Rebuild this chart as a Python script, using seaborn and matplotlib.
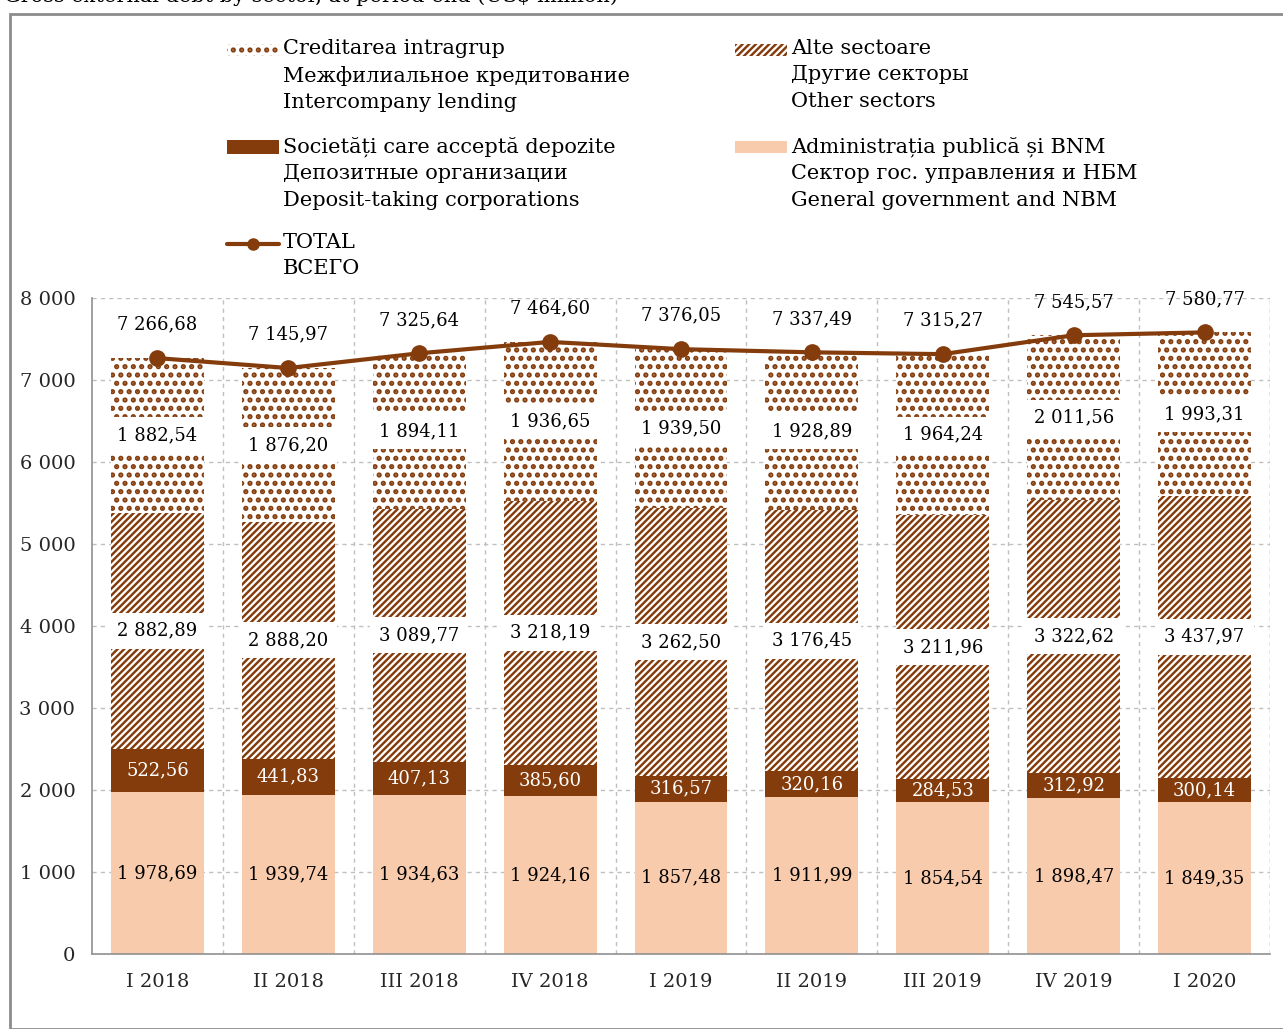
import matplotlib
matplotlib.use('Agg')
import matplotlib.pyplot as plt
from matplotlib.patches import Rectangle
from matplotlib.lines import Line2D
from matplotlib.ticker import FuncFormatter
import numpy as np
import pandas as pd
import seaborn as sns

# date (mil. USD)
periods = ['I 2018', 'II 2018', 'III 2018', 'IV 2018', 'I 2019',
           'II 2019', 'III 2019', 'IV 2019', 'I 2020']
admin = [1978.69, 1939.74, 1934.63, 1924.16, 1857.48, 1911.99, 1854.54, 1898.47, 1849.35]
deposit = [522.56, 441.83, 407.13, 385.60, 316.57, 320.16, 284.53, 312.92, 300.14]
other = [2882.89, 2888.20, 3089.77, 3218.19, 3262.50, 3176.45, 3211.96, 3322.62, 3437.97]
intercompany = [1882.54, 1876.20, 1894.11, 1936.65, 1939.50, 1928.89, 1964.24, 2011.56, 1993.31]
total = [7266.68, 7145.97, 7325.64, 7464.60, 7376.05, 7337.49, 7315.27, 7545.57, 7580.77]

BROWN = '#843C0C'
PEACH = '#F8CBAD'
FONT = 'DejaVu Serif'
FS = 13
HATCH_DOTS = '..'
HATCH_STRIPES = '/////'
LW_DOTS = 2.5
LW_STRIPES = 1.75

sns.set_style('white')
plt.rcParams['font.family'] = [FONT, 'DejaVu Sans']
plt.rcParams['hatch.linewidth'] = LW_STRIPES
plt.rcParams['hatch.color'] = BROWN

def fmt(v):
    return f'{v:,.2f}'.replace(',', ' ').replace('.', ',')

def hatch_lw(patch, lw):
    # nu toate versiunile matplotlib au grosime de hasura per obiect
    if hasattr(patch, 'set_hatch_linewidth'):
        patch.set_hatch_linewidth(lw)

df = pd.DataFrame({'period': periods, 'admin': admin, 'deposit': deposit,
                   'other': other, 'intercompany': intercompany, 'total': total})
df['c1'] = df['admin']
df['c2'] = df['c1'] + df['deposit']
df['c3'] = df['c2'] + df['other']
df['c4'] = df['c3'] + df['intercompany']

fig = plt.figure(figsize=(12.83, 10.29), dpi=100)
ax = fig.add_axes([92 / 1283, 75 / 1029, (1270 - 92) / 1283, (954 - 298) / 1029])

# straturile cumulative, de sus in jos
W = 0.71
sns.barplot(data=df, x='period', y='c4', ax=ax, width=W, color='white',
            edgecolor=BROWN, linewidth=0, hatch=HATCH_DOTS, saturation=1)
sns.barplot(data=df, x='period', y='c3', ax=ax, width=W, color='white',
            edgecolor=BROWN, linewidth=0, hatch=HATCH_STRIPES, saturation=1)
sns.barplot(data=df, x='period', y='c2', ax=ax, width=W, color=BROWN,
            edgecolor=BROWN, linewidth=0, saturation=1)
sns.barplot(data=df, x='period', y='c1', ax=ax, width=W, color=PEACH,
            edgecolor=PEACH, linewidth=0, saturation=1)
for bar in ax.containers[0]:
    hatch_lw(bar, LW_DOTS)

# linia TOTAL
x = np.arange(len(periods))
ax.plot(x, df['total'], color=BROWN, lw=3, marker='o', markersize=11, zorder=5)

box = dict(boxstyle='square,pad=0.5', fc='white', ec='none')
for i in range(len(periods)):
    ax.text(i, df['admin'][i] / 2, fmt(admin[i]), ha='center', va='center',
            fontsize=FS, color='black', zorder=6)
    ax.text(i, df['c1'][i] + deposit[i] / 2, fmt(deposit[i]), ha='center', va='center',
            fontsize=FS, color='white', zorder=6)
    ax.text(i, df['c2'][i] + other[i] / 2, fmt(other[i]), ha='center', va='center',
            fontsize=FS, color='black', bbox=box, zorder=6)
    ax.text(i, df['c3'][i] + intercompany[i] / 2, fmt(intercompany[i]), ha='center',
            va='center', fontsize=FS, color='black', bbox=box, zorder=6)
    ax.annotate(fmt(total[i]), (i, total[i]), xytext=(0, 24), textcoords='offset points',
                ha='center', va='center', fontsize=FS, color='black', zorder=6)

ax.set_xlim(-0.5, len(periods) - 0.5)
ax.set_ylim(0, 8000)
ax.set_yticks(np.arange(0, 8001, 1000))
ax.yaxis.set_major_formatter(FuncFormatter(lambda v, p: f'{v:,.0f}'.replace(',', ' ')))
ax.set_xlabel('')
ax.set_ylabel('')
ax.set_xticks(x)
ax.set_xticklabels(periods)
ax.set_xticks(np.arange(-0.5, len(periods), 1), minor=True)
ax.tick_params(axis='x', which='major', length=0, labelsize=FS + 1, pad=14)
ax.tick_params(axis='x', which='minor', length=6, color='#A0A0A0', width=1)
ax.tick_params(axis='y', length=0, labelsize=FS + 1, pad=12)
ax.grid(False)
for v in range(1000, 8001, 1000):
    ax.axhline(v, color='#BFBFBF', lw=1, ls=(0, (3, 3)), zorder=0)
for b in np.arange(0.5, len(periods), 1):
    ax.axvline(b, color='#BFBFBF', lw=1, ls=(0, (3, 3)), zorder=0)
ax.axvline(len(periods) - 0.5, color='#BFBFBF', lw=1, ls=(0, (3, 3)), zorder=0)
for s in ['top', 'right']:
    ax.spines[s].set_visible(False)
for s in ['left', 'bottom']:
    ax.spines[s].set_color('#909090')
    ax.spines[s].set_linewidth(1.2)

# legenda manuala
def fx(px):
    return px / 1283

def fy(py):
    return 1 - py / 1029

legend_items = [
    (227, 50, 'dots', 'Creditarea intragrup\nМежфилиальное кредитование\nIntercompany lending'),
    (735, 50, 'stripes', 'Alte sectoare\nДругие секторы\nOther sectors'),
    (227, 147, 'deposit', 'Societăți care acceptă depozite\nДепозитные организации\nDeposit-taking corporations'),
    (735, 147, 'admin', 'Administrația publică și BNM\nСектор гос. управления и НБМ\nGeneral government and NBM'),
    (227, 244, 'line', 'TOTAL\nВСЕГО'),
]
for px, py, kind, label in legend_items:
    if kind == 'line':
        fig.add_artist(Line2D([fx(px), fx(px + 52)], [fy(py), fy(py)], color=BROWN, lw=3,
                              transform=fig.transFigure))
        fig.add_artist(Line2D([fx(px + 26)], [fy(py)], color=BROWN, marker='o', markersize=8,
                              transform=fig.transFigure))
    else:
        h = 14 if kind == 'deposit' else 12
        style = {'dots': dict(facecolor='white', edgecolor=BROWN, hatch=HATCH_DOTS, lw=0),
                 'stripes': dict(facecolor='white', edgecolor=BROWN, hatch=HATCH_STRIPES, lw=0),
                 'deposit': dict(facecolor=BROWN, edgecolor=BROWN, lw=0),
                 'admin': dict(facecolor=PEACH, edgecolor=PEACH, lw=0)}[kind]
        handle = Rectangle((fx(px), fy(py + h / 2)), fx(52), h / 1029,
                           transform=fig.transFigure, **style)
        if kind == 'dots':
            hatch_lw(handle, LW_DOTS)
        fig.add_artist(handle)
    fig.text(fx(px + 56), fy(py - 11), label, ha='left', va='top', fontsize=FS + 2,
             linespacing=1.5, color='black')

# titlu (taiat sus) si chenar
fig.text(0.003, fy(2), 'Gross external debt by sector, at period-end (US$ million)',
         ha='left', va='baseline', fontsize=FS + 2, color='black')
fig.add_artist(Rectangle((fx(10), 0), 1, fy(14), transform=fig.transFigure,
                         fill=False, edgecolor='#8C8C8C', lw=2))

fig.savefig('out.png', dpi=100)
